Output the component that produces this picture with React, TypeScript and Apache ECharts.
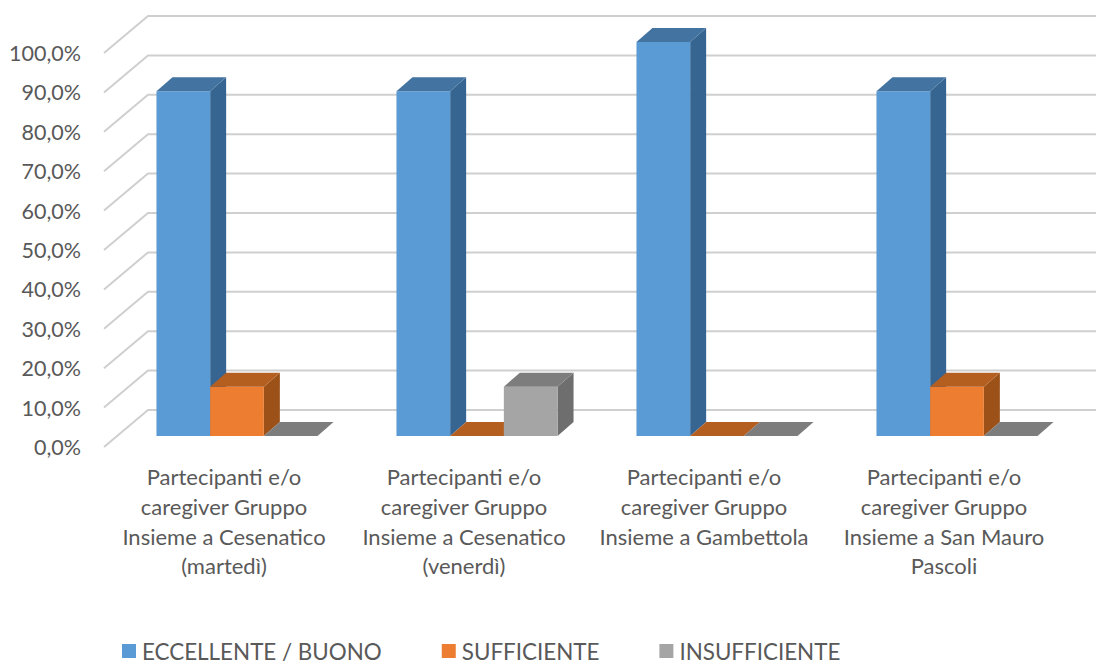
import React, { useEffect, useRef } from "react";
import * as echarts from "echarts";

const categories = [
  "Partecipanti e/o\ncaregiver Gruppo\nInsieme a Cesenatico\n(martedì)",
  "Partecipanti e/o\ncaregiver Gruppo\nInsieme a Cesenatico\n(venerdì)",
  "Partecipanti e/o\ncaregiver Gruppo\nInsieme a Gambettola",
  "Partecipanti e/o\ncaregiver Gruppo\nInsieme a San Mauro\nPascoli",
];
const ticks = [0, 10, 20, 30, 40, 50, 60, 70, 80, 90, 100];
const eccellente = [87.5, 87.5, 100, 87.5];
const sufficiente = [12.5, 0, 0, 12.5];
const insufficiente = [0, 12.5, 0, 0];

const TEXT = "#595959";
const FONT = "Lato";
const WALL_DX = 44;
const WALL_DY = 37;
const BAR_SHIFT_X = 13;
const BAR_SHIFT_Y = 11;
const DEPTH_X = 16;
const DEPTH_Y = 14;

const poly = (points: number[][], fill: string) => ({
  type: "polygon",
  shape: { points },
  style: { fill, stroke: null },
});

function bar3d(index: number, front: string, top: string, side: string) {
  return (_params: any, api: any) => {
    const cat = api.value(0);
    const val = api.value(1);
    const band = api.size([1, 0])[0];
    const w = band / 4.47;
    const center = api.coord([cat, 0])[0] + BAR_SHIFT_X;
    const x0 = center - 1.5 * w + index * w;
    const x1 = x0 + w;
    const yb = api.coord([cat, 0])[1] - BAR_SHIFT_Y;
    const yt = api.coord([cat, val])[1] - BAR_SHIFT_Y;
    const children: any[] = [];
    if (val > 0) {
      children.push(
        poly([[x1, yt], [x1 + DEPTH_X, yt - DEPTH_Y], [x1 + DEPTH_X, yb - DEPTH_Y], [x1, yb]], side),
        poly([[x0, yt], [x1, yt], [x1, yb], [x0, yb]], front),
      );
    }
    children.push(
      poly([[x0, yt], [x1, yt], [x1 + DEPTH_X, yt - DEPTH_Y], [x0 + DEPTH_X, yt - DEPTH_Y]], top),
    );
    return { type: "group", children };
  };
}

function walls(params: any, api: any) {
  const v = api.value(1);
  const y = api.coord([0, v])[1];
  const x = params.coordSys.x;
  const right = params.coordSys.x + params.coordSys.width + WALL_DX;
  const style = { stroke: "#cfcfcf", lineWidth: 2, fill: null };
  return {
    type: "polyline",
    shape: { points: [[x, y], [x + WALL_DX, y - WALL_DY], [right, y - WALL_DY]] },
    style,
  };
}

const rows = (values: number[]) => values.map((v, i) => [i, v]);

function barSeries(name: string, values: number[], index: number, front: string, top: string, side: string) {
  return {
    type: "custom",
    name,
    data: rows(values),
    encode: { x: 0, y: 1 },
    itemStyle: { color: front },
    clip: false,
    renderItem: bar3d(index, front, top, side),
  };
}

export default function App() {
  const ref = useRef<HTMLDivElement>(null);
  useEffect(() => {
    const chart = echarts.init(ref.current!, null, { renderer: "svg" });
    chart.setOption({
      animation: false,
      backgroundColor: "#ffffff",
      grid: { left: 104, top: 53, width: 960, height: 394 },
      legend: {
        left: 122,
        top: 640,
        padding: 0,
        icon: "rect",
        itemWidth: 14,
        itemHeight: 14,
        itemGap: 60,
        data: ["ECCELLENTE / BUONO", "SUFFICIENTE", "INSUFFICIENTE"],
        textStyle: { color: TEXT, fontFamily: FONT, fontSize: 22.4, padding: [0, 0, 0, 1] },
      },
      xAxis: {
        type: "category",
        data: categories,
        axisLine: { show: false },
        axisTick: { show: false },
        axisLabel: {
          color: TEXT,
          fontFamily: FONT,
          fontSize: 22,
          lineHeight: 29.7,
          margin: 15,
          interval: 0,
          verticalAlign: "top",
        },
      },
      yAxis: {
        type: "value",
        min: 0,
        max: 100,
        interval: 10,
        axisLine: { show: false },
        axisTick: { show: false },
        splitLine: { show: false },
        axisLabel: {
          color: TEXT,
          fontFamily: FONT,
          fontSize: 21.5,
          margin: 23,
          formatter: (v: number) => v.toFixed(1).replace(".", ",") + "%",
        },
      },
      series: [
        {
          type: "custom",
          name: "griglia",
          data: ticks.map((t) => [0, t]),
          encode: { x: 0, y: 1 },
          clip: false,
          silent: true,
          renderItem: walls,
        },
        barSeries("ECCELLENTE / BUONO", eccellente, 0, "#5B9BD5", "#4273A1", "#376591"),
        barSeries("SUFFICIENTE", sufficiente, 1, "#ED7D31", "#B45E20", "#9C5119"),
        barSeries("INSUFFICIENTE", insufficiente, 2, "#A5A5A5", "#7D7D7D", "#6E6E6E"),
      ],
    });
    return () => chart.dispose();
  }, []);
  return <div ref={ref} style={{ position: "fixed", left: 0, top: 0, width: 1096, height: 664 }} />;
}
